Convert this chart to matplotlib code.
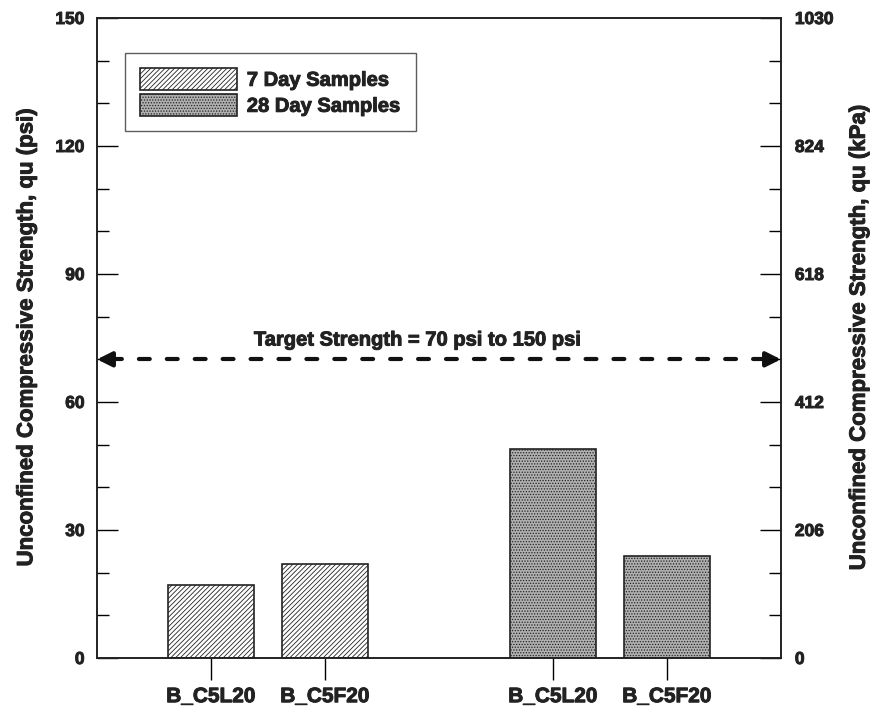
import numpy as np
import matplotlib
matplotlib.use('Agg')
import matplotlib.pyplot as plt
import matplotlib.patheffects as pe
from matplotlib.ticker import MultipleLocator, FixedLocator

plt.rcParams['font.family'] = ['Liberation Sans', 'DejaVu Sans']
plt.rcParams['font.weight'] = 'bold'
plt.rcParams['hatch.linewidth'] = 0.6

# data (psi)
labels_7 = ['B_C5L20', 'B_C5F20']
labels_28 = ['B_C5L20', 'B_C5F20']
pos_7 = [1, 2]
pos_28 = [4, 5]
qu_7 = [17, 22]
qu_28 = [49, 24]
target = 70
kpa_ticks = [0, 206, 412, 618, 824, 1030]

heavy = [pe.withStroke(linewidth=0.7, foreground='#222222')]
txtcol = '#222222'

fig = plt.figure(figsize=(8.75, 7.17), dpi=100)
ax = fig.add_axes([97/875, 1-658/717, (781-97)/875, 640/717])

ax.bar(pos_7, qu_7, width=0.75, facecolor='white', edgecolor='#222222',
       hatch='///////', linewidth=1.2, label='7 Day Samples')
ax.bar(pos_28, qu_28, width=0.75, facecolor='#b0b0b0', edgecolor='#222222',
       hatch='......', linewidth=1.2, label='28 Day Samples')

ax.set_xlim(0, 6)
ax.set_ylim(0, 150)

# target line with arrowheads
ax.plot([0.12, 5.88], [target, target], color='#111111', lw=3,
        dashes=(2.6, 4.1), dash_capstyle='round')
ax.annotate('', xy=(0, target), xytext=(0.15, target),
            arrowprops=dict(arrowstyle='-|>', color='#111111', lw=3,
                            mutation_scale=22, shrinkA=0, shrinkB=0))
ax.annotate('', xy=(6, target), xytext=(5.85, target),
            arrowprops=dict(arrowstyle='-|>', color='#111111', lw=3,
                            mutation_scale=22, shrinkA=0, shrinkB=0))
ax.text(2.81, 72.3, 'Target Strength = 70 psi to 150 psi', ha='center',
        va='bottom', fontsize=14.5, fontweight='bold', color=txtcol,
        path_effects=heavy)

ax.set_xticks(pos_7 + pos_28)
ax.set_xticklabels(labels_7 + labels_28, fontsize=15, fontweight='bold')
ax.tick_params(axis='x', direction='out', length=16, width=1, pad=5)

ax.yaxis.set_major_locator(MultipleLocator(30))
ax.yaxis.set_minor_locator(MultipleLocator(10))
ax.tick_params(axis='y', which='major', direction='in', length=15, width=1,
               pad=9, labelsize=12.5)
ax.tick_params(axis='y', which='minor', direction='in', length=8.5, width=1)
ax.set_ylabel('Unconfined Compressive Strength, qu (psi)', fontsize=16,
              fontweight='bold', labelpad=13, color=txtcol, path_effects=heavy)

for s in ax.spines.values():
    s.set_linewidth(1.2)
    s.set_color('#222222')

ax2 = ax.twinx()
ax2.set_ylim(0, 1030)
ax2.yaxis.set_major_locator(FixedLocator(kpa_ticks))
ax2.yaxis.set_minor_locator(FixedLocator(np.array(kpa_ticks[-1]) / 15 * np.arange(16)))
ax2.tick_params(axis='y', which='major', direction='in', length=15, width=1,
                pad=10, labelsize=12.5)
ax2.tick_params(axis='y', which='minor', direction='in', length=8.5, width=1)
ax2.set_ylabel('Unconfined Compressive Strength, qu (kPa)', fontsize=16,
               fontweight='bold', rotation=90, labelpad=11, color=txtcol,
               path_effects=heavy)
for s in ax2.spines.values():
    s.set_linewidth(1.2)
    s.set_color('#222222')

for lab in ax.get_xticklabels() + ax.get_yticklabels() + ax2.get_yticklabels():
    lab.set_color(txtcol)
    lab.set_path_effects(heavy)

leg = ax.legend(loc='upper left', bbox_to_anchor=(28/684, 1-35/640),
                borderaxespad=0, fontsize=14.5, frameon=True, fancybox=False,
                edgecolor='#333333', handlelength=4.8, handleheight=1.3,
                borderpad=0.75, labelspacing=0.2, handletextpad=0.5)
leg.get_frame().set_linewidth(1.0)
for t in leg.get_texts():
    t.set_color(txtcol)
    t.set_path_effects(heavy)

fig.savefig('out.png', dpi=100)
